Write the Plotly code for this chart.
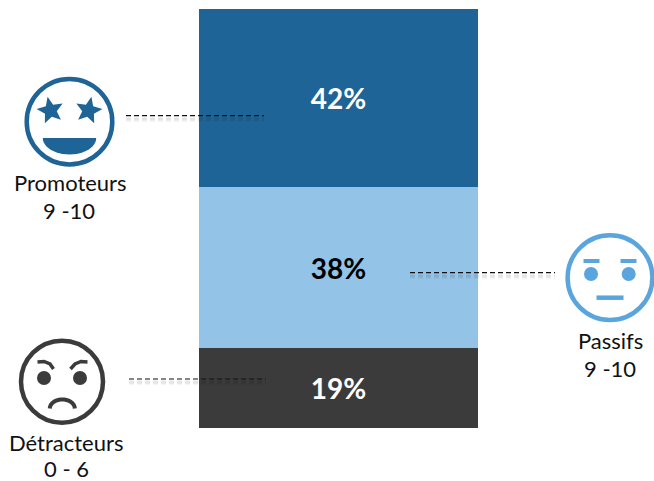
import math
import plotly.graph_objects as go

W, H = 654, 481

categories = ["NPS"]
segment_names = ["Détracteurs", "Passifs", "Promoteurs"]
segment_values = [19, 38, 42]
segment_colors = ["#3B3B3B", "#93C3E7", "#1F6497"]
label_colors = ["#FFFFFF", "#000000", "#FFFFFF"]
BLUE, SKY, DARK = "#1F6497", "#5AA5DE", "#3B3B3B"
FONT = "Lato, Carlito, 'Open Sans', sans-serif"

fig = go.Figure()
for name, value, color, lc in zip(segment_names, segment_values, segment_colors, label_colors):
    fig.add_trace(go.Bar(
        x=categories, y=[value], name=name, marker=dict(color=color, line=dict(width=0)),
        text=[f"{value}%"], textposition="inside", insidetextanchor="middle", textangle=0,
        insidetextfont=dict(family=FONT, size=28, color=lc, weight="bold"),
        hoverinfo="skip", showlegend=False,
    ))


def px(x):
    return x / W


def py(y):
    return 1 - y / H


shapes = []


def add_path(points, closed=False, fill=None, line=None, width=0):
    d = "M " + " L ".join(f"{px(x):.5f},{py(y):.5f}" for x, y in points)
    if closed:
        d += " Z"
    shapes.append(dict(type="path", xref="paper", yref="paper", path=d, layer="above",
                       fillcolor=fill or "rgba(0,0,0,0)",
                       line=dict(color=line or "rgba(0,0,0,0)", width=width)))


def add_circle(cx, cy, r, fill=None, line=None, width=0):
    shapes.append(dict(type="circle", xref="paper", yref="paper", layer="above",
                       x0=px(cx - r), x1=px(cx + r), y0=py(cy + r), y1=py(cy - r),
                       fillcolor=fill or "rgba(0,0,0,0)",
                       line=dict(color=line or "rgba(0,0,0,0)", width=width)))


def add_star(cx, cy, R, rot, color):
    pts = []
    for i in range(10):
        r = R if i % 2 == 0 else R * 0.45
        a = math.radians(-90 + rot + i * 36)
        pts.append((cx + r * math.cos(a), cy + r * math.sin(a)))
    add_path(pts, closed=True, fill=color)


def add_leader(x0, x1, y):
    for dy, w, op in [(3.5, 5, 0.04), (3.5, 2.5, 0.06)]:
        shapes.append(dict(type="line", xref="paper", yref="paper", layer="above",
                           x0=px(x0), x1=px(x1), y0=py(y + dy), y1=py(y + dy), opacity=op,
                           line=dict(color="#000000", width=w, dash="5px,3px")))
    shapes.append(dict(type="line", xref="paper", yref="paper", layer="above",
                       x0=px(x0), x1=px(x1), y0=py(y), y1=py(y),
                       line=dict(color="#111111", width=1.2, dash="5px,3px")))


def arc(cx, cy, rx, ry, a0, a1, n=24):
    return [(cx + rx * math.cos(math.radians(a0 + (a1 - a0) * i / n)),
             cy + ry * math.sin(math.radians(a0 + (a1 - a0) * i / n))) for i in range(n + 1)]


# Promoteurs face
add_circle(69.5, 121.7, 42.8, fill="#FFFFFF", line=BLUE, width=4.5)
add_star(50.5, 110.5, 14, -12, BLUE)
add_star(88.5, 110.5, 14, 12, BLUE)
add_path(arc(69.5, 138, 26.7, 16.5, 0, 180), closed=True, fill=BLUE)
add_leader(126, 264, 115.7)

# Passifs face
add_circle(610, 277.7, 42.4, fill="#FFFFFF", line=SKY, width=4.5)
add_path([(583.5, 261), (599.5, 261)], line=SKY, width=4)
add_path([(620.5, 261), (636.5, 261)], line=SKY, width=4)
add_circle(591, 274, 7, fill=SKY)
add_circle(628.7, 274, 7, fill=SKY)
add_path([(596.5, 297.7), (623.5, 297.7)], line=SKY, width=4.5)
add_leader(410, 555, 272.7)

# Détracteurs face
add_circle(62, 381.7, 41, fill="#FFFFFF", line=DARK, width=4.5)
add_path([(37.5, 362), (44, 361.5), (50, 364), (53.5, 369)], line=DARK, width=3.5)
add_path([(87.5, 362), (81, 361.5), (75, 364), (70.5, 369)], line=DARK, width=3.5)
add_circle(44, 378, 7, fill=DARK)
add_circle(80, 378, 7, fill=DARK)
add_path(arc(62.3, 408.5, 12.5, 9, 180, 360), line=DARK, width=4)
add_leader(129, 266, 379)

face_labels = [
    ("Promoteurs", 70, 182), ("9 -10", 69, 210),
    ("Passifs", 610, 340), ("9 -10", 610, 368),
    ("Détracteurs", 66, 442), ("0 - 6", 66, 468),
]
annotations = [dict(text=t, x=px(x), y=py(y), xref="paper", yref="paper", xanchor="center",
                    yanchor="middle", showarrow=False,
                    font=dict(family=FONT, size=22, color="#111111"))
               for t, x, y in face_labels]

fig.update_layout(
    width=W, height=H, autosize=False, barmode="stack", bargap=0,
    margin=dict(l=0, r=0, t=0, b=0, pad=0),
    paper_bgcolor="#FFFFFF", plot_bgcolor="#FFFFFF",
    xaxis=dict(domain=[199 / W, 478 / W], visible=False, fixedrange=True),
    yaxis=dict(domain=[1 - 428 / H, 1 - 9 / H], range=[0, sum(segment_values)], visible=False, fixedrange=True),
    shapes=shapes, annotations=annotations, uniformtext=dict(mode=False),
)

fig.write_html("out.html", config=dict(displayModeBar=False),
               post_script="document.body.style.margin='0';document.documentElement.style.overflow='hidden';")
